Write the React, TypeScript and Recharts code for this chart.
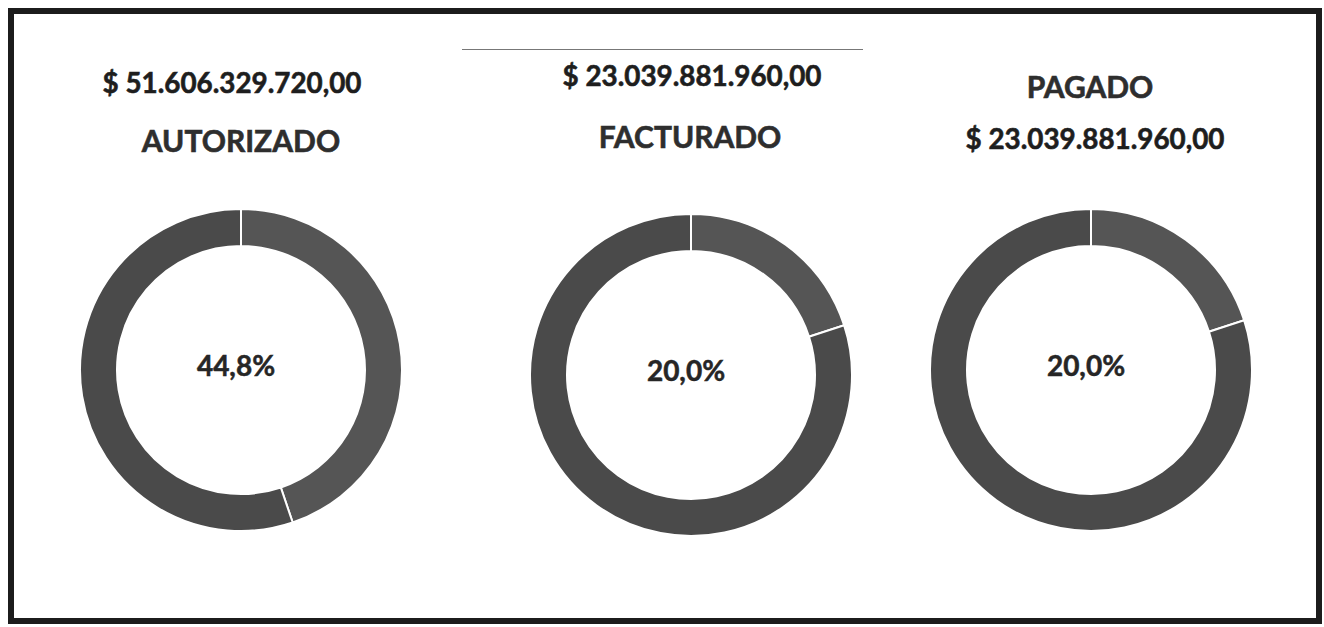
import { PieChart, Pie, Cell } from 'recharts';

const categories = ['AUTORIZADO', 'FACTURADO', 'PAGADO'];
const amounts = ['$ 51.606.329.720,00', '$ 23.039.881.960,00', '$ 23.039.881.960,00'];
const percents = [44.8, 20.0, 20.0];
const percentLabels = ['44,8%', '20,0%', '20,0%'];

const FONT = 'Lato, "Liberation Sans", sans-serif';
const RING_COLORS = ['#555555', '#4a4a4a'];

// where each donut sits, and where its two text lines go (amount / title)
const layout = [
  { cx: 236, cy: 365, amountY: 82, titleY: 140, amountX: 232, titleX: 241 },
  { cx: 686, cy: 370, amountY: 75, titleY: 136, amountX: 692, titleX: 690 },
  { cx: 1086, cy: 365, amountY: 138, titleY: 86, amountX: 1095, titleX: 1090 },
];

export default function App() {
  const rings = percents.map((p, i) => [
    { name: categories[i], value: p },
    { name: 'Resto', value: Math.round((100 - p) * 10) / 10 },
  ]);

  return (
    <div style={{ position: 'absolute', left: 0, top: 0, width: 1324, height: 627, background: '#fff', overflow: 'hidden' }}>
      {/* scanned frame */}
      <div
        style={{
          position: 'absolute',
          left: 8,
          top: 8,
          width: 1314,
          height: 616,
          boxSizing: 'border-box',
          border: '6px solid #1c1c1c',
        }}
      />
      <div style={{ position: 'absolute', left: 462, top: 49, width: 401, height: 1, background: '#777' }} />

      <div style={{ position: 'absolute', left: 0, top: 0 }}>
        <PieChart width={1324} height={627}>
          {rings.map((data, i) => (
            <Pie
              key={categories[i]}
              data={data}
              dataKey="value"
              cx={layout[i].cx}
              cy={layout[i].cy}
              innerRadius={124}
              outerRadius={161}
              startAngle={90}
              endAngle={-270}
              stroke="#fff"
              strokeWidth={2}
              isAnimationActive={false}
            >
              {data.map((d, j) => (
                <Cell key={d.name} fill={RING_COLORS[j]} />
              ))}
            </Pie>
          ))}
        </PieChart>
      </div>

      <svg width={1324} height={627} style={{ position: 'absolute', left: 0, top: 0, pointerEvents: 'none' }}>
        {layout.map((l, i) => (
          <g key={categories[i]} fontFamily={FONT} fontWeight={700} textAnchor="middle" dominantBaseline="central">
            <text x={l.amountX} y={l.amountY} fontSize={27.8} fill="#1e1e1e" stroke="#1e1e1e" strokeWidth={0.6}>
              {amounts[i]}
            </text>
            <text x={l.titleX} y={l.titleY} fontSize={30} fill="#2e2e2e" stroke="#2e2e2e" strokeWidth={0.6}>
              {categories[i]}
            </text>
            <text x={l.cx} y={l.cy} fontSize={28} fill="#262626" stroke="#262626" strokeWidth={0.5}>
              {percentLabels[i]}
            </text>
          </g>
        ))}
      </svg>
    </div>
  );
}
